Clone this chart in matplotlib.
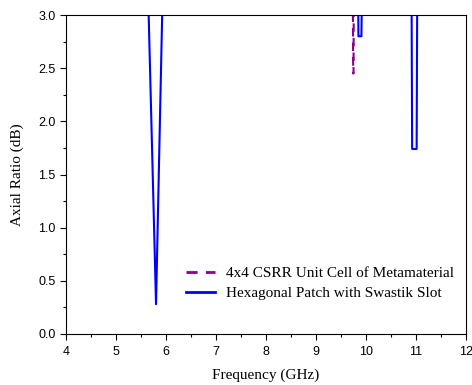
import numpy as np
import matplotlib
matplotlib.use("Agg")
import matplotlib.pyplot as plt
from matplotlib.ticker import MultipleLocator

# Axial ratio traces (values above 3 dB are clipped)
freq_csrr = [9.735, 9.745, 9.752, 9.76]
ar_csrr = [3.6, 2.45, 2.45, 3.6]

freq_hex = [5.62, 5.80, 5.95, 9.84, 9.85, 9.91, 9.93, 10.91, 10.925, 11.015, 11.03]
ar_hex = [3.6, 0.28, 3.6, 3.6, 2.80, 2.80, 3.6, 3.6, 1.74, 1.74, 3.6]

# the hexagonal patch trace is split where it leaves the plot above 3 dB
hex_segments = [(0, 3), (3, 7), (7, 11)]

x_ticks = list(range(4, 13))
y_ticks = [0.0, 0.5, 1.0, 1.5, 2.0, 2.5, 3.0]

fig = plt.figure(figsize=(4.72, 3.85), dpi=100)
ax = fig.add_axes([0.140, 0.1325, 0.847, 0.8285])

ax.plot(freq_csrr, ar_csrr, color="#8B008B", linestyle=(0, (4, 3)), linewidth=1.5,
        label="4x4 CSRR Unit Cell of Metamaterial")
for k, (a, b) in enumerate(hex_segments):
    ax.plot(freq_hex[a:b], ar_hex[a:b], color="#0000FF", linewidth=1.5,
            label="Hexagonal Patch with Swastik Slot" if k == 0 else "_nolegend_")

ax.set_xlim(4, 12)
ax.set_ylim(0, 3.0)
ax.set_xticks(x_ticks)
ax.set_xticklabels([str(v) for v in x_ticks], fontfamily="Liberation Sans")
ax.set_yticks(y_ticks)
ax.set_yticklabels([f"{v:.1f}" for v in y_ticks], fontfamily="Liberation Sans")
ax.xaxis.set_minor_locator(MultipleLocator(0.5))
ax.yaxis.set_minor_locator(MultipleLocator(0.25))
ax.tick_params(which="both", direction="out", labelsize=9)
ax.tick_params(which="major", length=4, width=0.8)
ax.tick_params(which="minor", length=2.5, width=0.8)
ax.tick_params(axis="x", pad=4.5)

ax.set_xlabel("Frequency (GHz)", fontfamily="Liberation Serif", fontsize=11, labelpad=8)
ax.set_ylabel("Axial Ratio (dB)", fontfamily="Liberation Serif", fontsize=11, labelpad=10)

leg = ax.legend(loc="lower right", bbox_to_anchor=(1.005, 0.062), frameon=False,
                prop={"family": "Liberation Serif", "size": 11},
                handlelength=1.9, handletextpad=0.75, labelspacing=0.45)
for line in leg.get_lines():
    line.set_linewidth(2.0)

fig.savefig("out.png", dpi=100)
